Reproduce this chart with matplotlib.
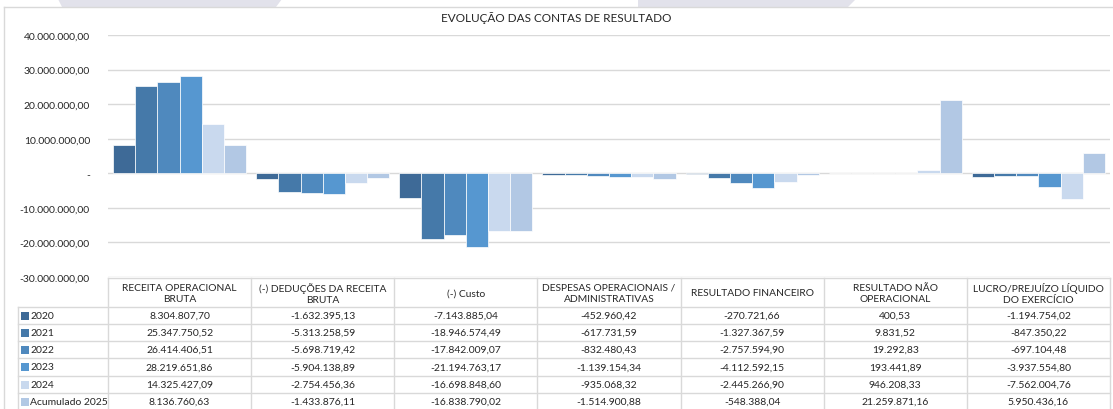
import matplotlib
matplotlib.use("Agg")
import matplotlib.pyplot as plt
import numpy as np
from matplotlib.patches import Polygon, Rectangle

plt.rcParams["font.family"] = ["Lato", "DejaVu Sans"]

# ---------------------------------------------------------------------------
# Data
# ---------------------------------------------------------------------------
CATEGORIES = [
    "RECEITA OPERACIONAL\nBRUTA",
    "(-) DEDUÇÕES DA RECEITA\nBRUTA",
    "(-) Custo",
    "DESPESAS OPERACIONAIS /\nADMINISTRATIVAS",
    "RESULTADO FINANCEIRO",
    "RESULTADO NÃO\nOPERACIONAL",
    "LUCRO/PREJUÍZO LÍQUIDO\nDO EXERCÍCIO",
]
SERIES = ["2020", "2021", "2022", "2023", "2024", "Acumulado 2025"]

v2020 = [8304807.70, -1632395.13, -7143885.04, -452960.42, -270721.66, 400.53, -1194754.02]
v2021 = [25347750.52, -5313258.59, -18946574.49, -617731.59, -1327367.59, 9831.52, -847350.22]
v2022 = [26414406.51, -5698719.42, -17842009.07, -832480.43, -2757594.90, 19292.83, -697104.48]
v2023 = [28219651.86, -5904138.89, -21194763.17, -1139154.34, -4112592.15, 193441.89, -3937554.80]
v2024 = [14325427.09, -2754456.36, -16698848.60, -935068.32, -2445266.90, 946208.33, -7562004.76]
v2025 = [8136760.63, -1433876.11, -16838790.02, -1514900.88, -548388.04, 21259871.16, 5950436.16]
VALUES = [v2020, v2021, v2022, v2023, v2024, v2025]

COLORS = ["#3E6A97", "#4579A9", "#4F89BE", "#5697D0", "#C9D9EE", "#B2C8E4"]

Y_TICKS = [-30e6, -20e6, -10e6, 0, 10e6, 20e6, 30e6, 40e6]

TITLE = "EVOLUÇÃO DAS CONTAS DE RESULTADO"


def br_fmt(v):
    s = f"{v:,.2f}"
    return s.replace(",", "X").replace(".", ",").replace("X", ".")


def tick_fmt(v):
    return "-" if v == 0 else br_fmt(v)


# ---------------------------------------------------------------------------
# Figure / layout (pixel based)
# ---------------------------------------------------------------------------
W, H = 1113, 410
fig = plt.figure(figsize=(W / 100, H / 100), dpi=100)

X0, X1 = 108, 1110   # plot area left/right
Y_TOP, Y_BOT = 36, 278  # pixel rows of 40M and -30M
GRID = "#D9D9D9"
TXT = "#262626"

ax = fig.add_axes([X0 / W, 1 - Y_BOT / H, (X1 - X0) / W, (Y_BOT - Y_TOP) / H])
ax.set_xlim(0, len(CATEGORIES))
ax.set_ylim(-30e6, 40e6)

bar_w = 0.155
x = np.arange(len(CATEGORIES)) + 0.5
for j, (vals, col) in enumerate(zip(VALUES, COLORS)):
    ax.bar(x + (j - 2.5) * bar_w, vals, width=bar_w, color=col,
           edgecolor="#FFFFFF", linewidth=0.5, zorder=3)

ax.set_yticks(Y_TICKS)
ax.set_yticklabels([tick_fmt(t) for t in Y_TICKS], fontsize=7.5, color=TXT)
ax.tick_params(axis="y", length=0, pad=13)
ax.set_xticks([])
ax.yaxis.grid(True, color=GRID, linewidth=1.0, zorder=0)
for s in ax.spines.values():
    s.set_visible(False)

# ---------------------------------------------------------------------------
# Overlay in pixel coordinates: frame, title, data table
# ---------------------------------------------------------------------------
ov = fig.add_axes([0, 0, 1, 1], zorder=5)
ov.set_xlim(0, W)
ov.set_ylim(H, 0)
ov.axis("off")
ov.patch.set_alpha(0)

# faint watermark shapes along the top edge
ov.add_patch(Polygon([(58, 0), (282, 0), (276, 8), (62, 8)], closed=True,
                     facecolor="#E2E2EB", edgecolor="none"))
ov.add_patch(Polygon([(638, 0), (856, 0), (848, 8), (638, 8)], closed=True,
                     facecolor="#E2E2EB", edgecolor="none"))

# chart frame
ov.plot([4, W], [8, 8], color=GRID, lw=1)
ov.plot([4, 4], [8, H], color=GRID, lw=1)

ov.text(W / 2, 18, TITLE, ha="center", va="center", fontsize=8.5, color=TXT)

# table geometry
col_w = (X1 - X0) / len(CATEGORIES)
col_edges = [X0 + i * col_w for i in range(len(CATEGORIES) + 1)]
HDR_TOP, HDR_BOT = 279, 308
row_edges = [308, 325, 342, 359, 377, 394, 411]
LEFT = 18

ov.plot([X0, X1], [HDR_TOP, HDR_TOP], color=GRID, lw=1)
for ye in row_edges:
    ov.plot([LEFT, X1], [ye, ye], color=GRID, lw=1)
for xe in col_edges:
    ov.plot([xe, xe], [HDR_TOP, H], color=GRID, lw=1)
ov.plot([LEFT, LEFT], [HDR_BOT, H], color=GRID, lw=1)

for i, cat in enumerate(CATEGORIES):
    cx = (col_edges[i] + col_edges[i + 1]) / 2
    ov.text(cx, (HDR_TOP + HDR_BOT) / 2 + 0.5, cat, ha="center", va="center",
            fontsize=7.4, color=TXT, linespacing=1.35)

for r, (name, vals, col) in enumerate(zip(SERIES, VALUES, COLORS)):
    cy = (row_edges[r] + row_edges[r + 1]) / 2
    ov.add_patch(Rectangle((21, cy - 4), 8, 8, facecolor=col, edgecolor="none"))
    ov.text(30, cy, name, ha="left", va="center", fontsize=7.5, color=TXT)
    for i, v in enumerate(vals):
        cx = (col_edges[i] + col_edges[i + 1]) / 2
        ov.text(cx, cy, br_fmt(v), ha="center", va="center", fontsize=7.5, color=TXT)

fig.savefig("out.png", dpi=100)
